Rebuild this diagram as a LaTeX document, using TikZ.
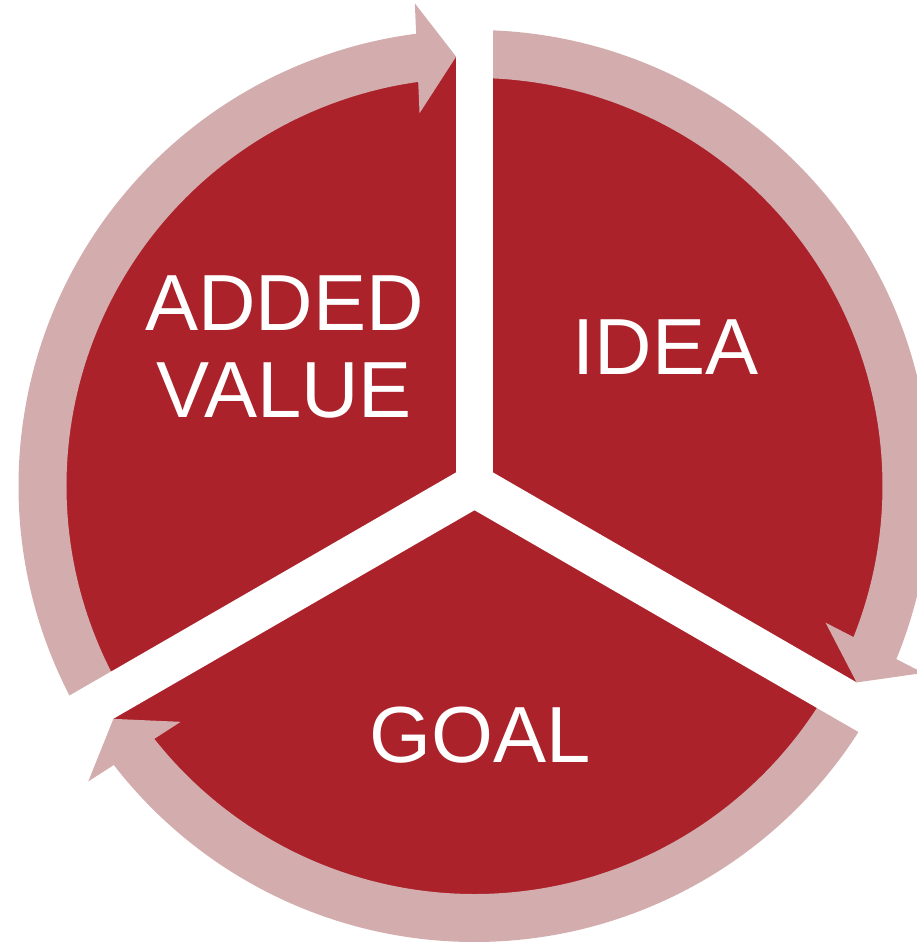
\documentclass[tikz,border=0pt]{standalone}
\usepackage{fontspec}
\setmainfont{Liberation Sans}
\usepackage{tikz}

\definecolor{segred}{RGB}{171,34,43}
\definecolor{ringpink}{RGB}{211,172,173}

\tikzset{
    segment/.style={fill=segred},
    ringarc/.style={draw=ringpink, line width=0.96cm},
    ringhead/.style={fill=ringpink},
    gapline/.style={draw=white, line width=0.84cm},
    seglabel/.style={text=white, font=\fontsize{45.3}{49.8}\selectfont, align=center, inner sep=0pt}
}

\begin{document}
\begin{tikzpicture}[scale=0.02]
        \useasboundingbox (-474.5,-459) rectangle (442.5,486);
        \coordinate (centre) at (0,0);
        \fill[segment] (centre) circle[radius=430];

        % ring arrows, all clockwise
        \draw[ringarc] (90:432) arc[start angle=90, end angle=-22.5, radius=432];
        \draw[ringarc] (-30:432) arc[start angle=-30, end angle=-142.5, radius=432];
        \draw[ringarc] (210:432) arc[start angle=210, end angle=97.2, radius=432];
        \begin{scope}[rotate=-27.2]
            \fill[ringhead] (430,0) -- (375,39) -- (485,39) -- cycle;
        \end{scope}
        \begin{scope}[rotate=-147.2]
            \fill[ringhead] (430,0) -- (375,39) -- (485,39) -- cycle;
        \end{scope}
        \begin{scope}[rotate=92.47]
            \fill[ringhead] (430,0) -- (375,39) -- (485,39) -- cycle;
        \end{scope}

        % white gaps between the segments
        \draw[gapline, line width=0.74cm] (centre) -- (90:520);
        \draw[gapline] (centre) -- (-30:520);
        \draw[gapline] (centre) -- (210:520);

        \node[seglabel] (idea) at (191,139) {IDEA};
        \node[seglabel] (added) at (-190,139) {ADDED\\VALUE};
        \node[seglabel] (goal) at (5.5,-248.7) {GOAL};
    \end{tikzpicture}
\end{document}
